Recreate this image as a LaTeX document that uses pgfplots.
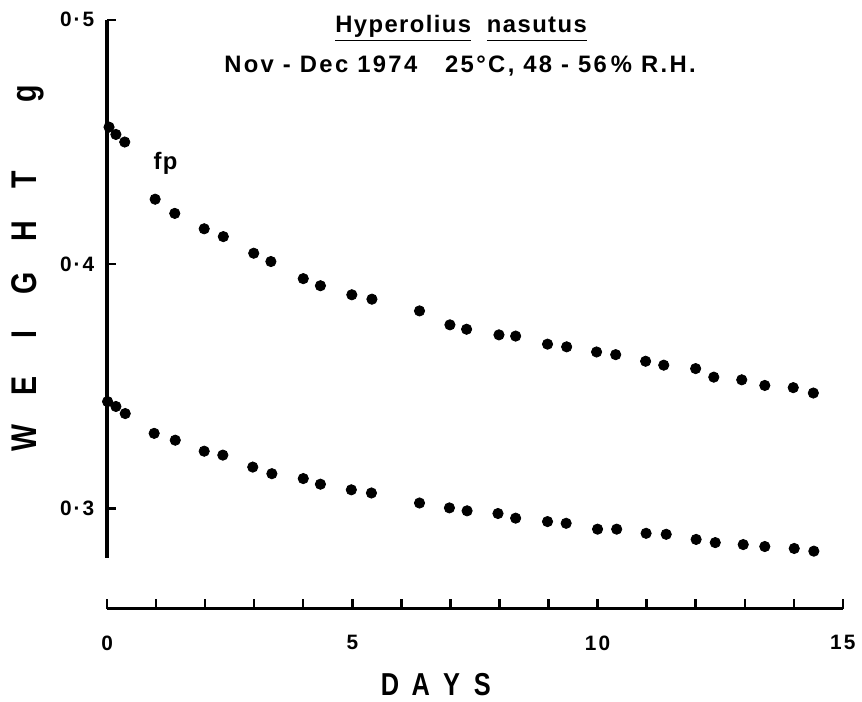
\documentclass[border=0pt]{standalone}
\usepackage{fontspec}
\setmainfont{Liberation Sans}[LetterSpace=6]
\newfontfamily\narrowfont{Liberation Sans}[FakeStretch=0.8]
\newfontfamily\tickfont{Liberation Sans}[LetterSpace=10]
\usepackage{pgfplots}
\pgfplotsset{compat=1.18}
\pgfplotstableread{
x y
0.04 0.4561
0.18 0.4531
0.36 0.4500
0.98 0.4266
1.38 0.4208
1.98 0.4145
2.37 0.4113
2.99 0.4045
3.34 0.4011
4.00 0.3941
4.35 0.3912
4.99 0.3875
5.40 0.3857
6.37 0.3809
6.99 0.3752
7.33 0.3734
7.99 0.3711
8.33 0.3706
8.98 0.3673
9.37 0.3662
9.98 0.3641
10.37 0.3630
10.98 0.3603
11.35 0.3587
12.00 0.3573
12.37 0.3538
12.94 0.3527
13.41 0.3504
13.99 0.3495
14.40 0.3473
}\upperdata
\pgfplotstableread{
x y
0.01 0.3438
0.18 0.3418
0.37 0.3389
0.96 0.3308
1.39 0.3280
1.98 0.3235
2.36 0.3219
2.97 0.3170
3.36 0.3143
4.00 0.3123
4.35 0.3100
4.98 0.3077
5.39 0.3064
6.37 0.3023
6.98 0.3003
7.34 0.2991
7.97 0.2980
8.33 0.2961
8.98 0.2947
9.36 0.2940
10.00 0.2916
10.39 0.2916
10.99 0.2899
11.40 0.2895
12.01 0.2874
12.40 0.2861
12.97 0.2853
13.41 0.2845
14.01 0.2837
14.41 0.2826
}\lowerdata
\begin{document}
\begin{tikzpicture}[font=\bfseries]
\path (-54pt,-71.85pt) rectangle (377pt,281.15pt);
\begin{axis}[
  at={(0pt,0pt)}, anchor=south west,
  scale only axis, width=371pt, height=271.15pt,
  xmin=0, xmax=15, ymin=0.28, ymax=0.5,
  axis x line=none, axis y line=left,
  axis line style={-, line width=1.6pt},
  ytick={0.3,0.4,0.5}, yticklabels={0\kern1pt·\kern1pt3,0\kern1pt·\kern1pt4,0\kern1pt·\kern1pt5},
  tick align=inside, major tick length=4.5pt,
  tick style={line width=1.2pt, black},
  yticklabel style={font=\tickfont\bfseries\fontsize{10.5}{12}\selectfont, xshift=-3pt},
  clip=false,
]
\addplot[only marks, mark=*, mark size=2.6pt, black] table[x=x,y=y] {\upperdata};
\addplot[only marks, mark=*, mark size=2.6pt, black] table[x=x,y=y] {\lowerdata};
\node[font=\bfseries\fontsize{12}{14}\selectfont] at (axis cs:1.19,0.4412) {fp};
\end{axis}
\begin{axis}[
  at={(0pt,-25.85pt)}, anchor=south west,
  scale only axis, width=371pt, height=20pt,
  xmin=0, xmax=15, ymin=0, ymax=1,
  axis y line=none, axis x line=bottom,
  axis line style={-, line width=1.4pt},
  xtick={0,5,10,15}, xticklabels={0,5,10,15},
  minor xtick={1,2,3,4,6,7,8,9,11,12,13,14},
  tick align=inside, major tick length=5pt, minor tick length=5pt,
  tick style={line width=1.2pt, black},
  xticklabel style={font=\tickfont\bfseries\fontsize{10.5}{12}\selectfont, yshift=-10pt},
]
\end{axis}
% titles
\node[anchor=base, font=\bfseries\fontsize{12}{14}\selectfont] at (178.5pt,264.65pt)
  {\underline{Hyperolius\vphantom{y}}\hspace{8pt}\underline{nasutus\vphantom{y}}};
\node[anchor=base, font=\tickfont\bfseries\fontsize{12}{14}\selectfont] at (178pt,244.65pt)
  {Nov - Dec 1974\hspace{14pt}25°C, 48 - 56\,\% R.H.};
% axis labels
\node[anchor=center, font=\narrowfont\bfseries\fontsize{16}{18}\selectfont] at (166pt,-63.85pt)
  {\makebox[15.5pt]{D}\makebox[15.5pt]{A}\makebox[15.5pt]{Y}\makebox[15.5pt]{S}};
\node[anchor=base, rotate=90, font=\narrowfont\bfseries\fontsize{18}{20}\selectfont] at (-35.5pt,125.4pt)
  {\makebox[26.1pt]{W}\makebox[26.1pt]{E}\makebox[26.1pt]{I}\makebox[26.1pt]{G}\makebox[26.1pt]{H}\makebox[26.1pt]{T}};
\node[anchor=base, rotate=90, font=\narrowfont\bfseries\fontsize{18}{20}\selectfont] at (-35.5pt,233.65pt) {g};
\end{tikzpicture}
\end{document}
